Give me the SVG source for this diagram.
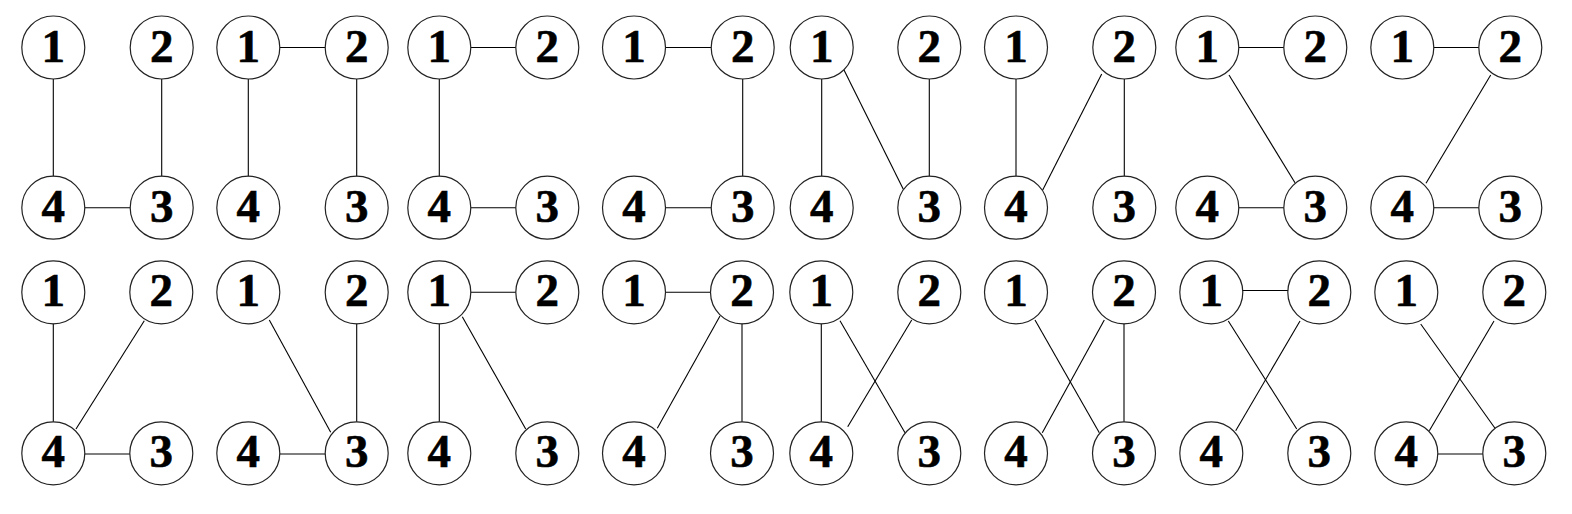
<svg xmlns="http://www.w3.org/2000/svg" width="1572" height="514" viewBox="0 0 1572 514">
<style>
.bg{fill:#fff}
.e{stroke:#000;stroke-width:1.1;fill:none}
.n circle{fill:#fff;stroke:#222;stroke-width:1.2}
.n text{font-family:"Liberation Serif","Times New Roman",serif;font-weight:bold;font-size:47px;text-anchor:middle;fill:#000;stroke:#000;stroke-width:0.6}
</style>
<rect class="bg" x="0" y="0" width="1572" height="514"/>
<!-- Row 1 -->
<g id="g1">
<g id="g1-edges"><line class="e" x1="53.3" y1="47.5" x2="53.3" y2="207.7"/><line class="e" x1="161.7" y1="47.5" x2="161.7" y2="207.7"/><line class="e" x1="53.3" y1="207.7" x2="161.7" y2="207.7"/></g>
<g id="g1-n1" class="n"><circle cx="53.3" cy="47.5" r="31.5"/><text x="53.3" y="61.5">1</text></g>
<g id="g1-n2" class="n"><circle cx="161.7" cy="47.5" r="31.5"/><text x="161.7" y="61.5">2</text></g>
<g id="g1-n4" class="n"><circle cx="53.3" cy="207.7" r="31.5"/><text x="53.3" y="221.7">4</text></g>
<g id="g1-n3" class="n"><circle cx="161.7" cy="207.7" r="31.5"/><text x="161.7" y="221.7">3</text></g>
</g>
<g id="g2">
<g id="g2-edges"><line class="e" x1="248.3" y1="47.5" x2="356.7" y2="47.5"/><line class="e" x1="248.3" y1="47.5" x2="248.3" y2="207.7"/><line class="e" x1="356.7" y1="47.5" x2="356.7" y2="207.7"/></g>
<g id="g2-n1" class="n"><circle cx="248.3" cy="47.5" r="31.5"/><text x="248.3" y="61.5">1</text></g>
<g id="g2-n2" class="n"><circle cx="356.7" cy="47.5" r="31.5"/><text x="356.7" y="61.5">2</text></g>
<g id="g2-n4" class="n"><circle cx="248.3" cy="207.7" r="31.5"/><text x="248.3" y="221.7">4</text></g>
<g id="g2-n3" class="n"><circle cx="356.7" cy="207.7" r="31.5"/><text x="356.7" y="221.7">3</text></g>
</g>
<g id="g3">
<g id="g3-edges"><line class="e" x1="439.3" y1="47.5" x2="547.3" y2="47.5"/><line class="e" x1="439.3" y1="47.5" x2="439.3" y2="207.7"/><line class="e" x1="439.3" y1="207.7" x2="547.3" y2="207.7"/></g>
<g id="g3-n1" class="n"><circle cx="439.3" cy="47.5" r="31.5"/><text x="439.3" y="61.5">1</text></g>
<g id="g3-n2" class="n"><circle cx="547.3" cy="47.5" r="31.5"/><text x="547.3" y="61.5">2</text></g>
<g id="g3-n4" class="n"><circle cx="439.3" cy="207.7" r="31.5"/><text x="439.3" y="221.7">4</text></g>
<g id="g3-n3" class="n"><circle cx="547.3" cy="207.7" r="31.5"/><text x="547.3" y="221.7">3</text></g>
</g>
<g id="g4">
<g id="g4-edges"><line class="e" x1="634" y1="47.5" x2="742.7" y2="47.5"/><line class="e" x1="742.7" y1="47.5" x2="742.7" y2="207.7"/><line class="e" x1="634" y1="207.7" x2="742.7" y2="207.7"/></g>
<g id="g4-n1" class="n"><circle cx="634" cy="47.5" r="31.5"/><text x="634" y="61.5">1</text></g>
<g id="g4-n2" class="n"><circle cx="742.7" cy="47.5" r="31.5"/><text x="742.7" y="61.5">2</text></g>
<g id="g4-n4" class="n"><circle cx="634" cy="207.7" r="31.5"/><text x="634" y="221.7">4</text></g>
<g id="g4-n3" class="n"><circle cx="742.7" cy="207.7" r="31.5"/><text x="742.7" y="221.7">3</text></g>
</g>
<g id="g5">
<g id="g5-edges"><line class="e" x1="821.7" y1="47.5" x2="821.7" y2="207.7"/><line class="e" x1="844" y1="70" x2="903.3" y2="189.3"/><line class="e" x1="929.3" y1="47.5" x2="929.3" y2="207.7"/></g>
<g id="g5-n1" class="n"><circle cx="821.7" cy="47.5" r="31.5"/><text x="821.7" y="61.5">1</text></g>
<g id="g5-n2" class="n"><circle cx="929.3" cy="47.5" r="31.5"/><text x="929.3" y="61.5">2</text></g>
<g id="g5-n4" class="n"><circle cx="821.7" cy="207.7" r="31.5"/><text x="821.7" y="221.7">4</text></g>
<g id="g5-n3" class="n"><circle cx="929.3" cy="207.7" r="31.5"/><text x="929.3" y="221.7">3</text></g>
</g>
<g id="g6">
<g id="g6-edges"><line class="e" x1="1016" y1="47.5" x2="1016" y2="207.7"/><line class="e" x1="1101.7" y1="74" x2="1042.7" y2="190"/><line class="e" x1="1124.3" y1="47.5" x2="1124.3" y2="207.7"/></g>
<g id="g6-n1" class="n"><circle cx="1016" cy="47.5" r="31.5"/><text x="1016" y="61.5">1</text></g>
<g id="g6-n2" class="n"><circle cx="1124.3" cy="47.5" r="31.5"/><text x="1124.3" y="61.5">2</text></g>
<g id="g6-n4" class="n"><circle cx="1016" cy="207.7" r="31.5"/><text x="1016" y="221.7">4</text></g>
<g id="g6-n3" class="n"><circle cx="1124.3" cy="207.7" r="31.5"/><text x="1124.3" y="221.7">3</text></g>
</g>
<g id="g7">
<g id="g7-edges"><line class="e" x1="1207.3" y1="47.5" x2="1315.3" y2="47.5"/><line class="e" x1="1229" y1="75" x2="1295" y2="182.7"/><line class="e" x1="1207.3" y1="207.7" x2="1315.3" y2="207.7"/></g>
<g id="g7-n1" class="n"><circle cx="1207.3" cy="47.5" r="31.5"/><text x="1207.3" y="61.5">1</text></g>
<g id="g7-n2" class="n"><circle cx="1315.3" cy="47.5" r="31.5"/><text x="1315.3" y="61.5">2</text></g>
<g id="g7-n4" class="n"><circle cx="1207.3" cy="207.7" r="31.5"/><text x="1207.3" y="221.7">4</text></g>
<g id="g7-n3" class="n"><circle cx="1315.3" cy="207.7" r="31.5"/><text x="1315.3" y="221.7">3</text></g>
</g>
<g id="g8">
<g id="g8-edges"><line class="e" x1="1402.3" y1="47.5" x2="1510.3" y2="47.5"/><line class="e" x1="1490.7" y1="75" x2="1426" y2="183.3"/><line class="e" x1="1402.3" y1="207.7" x2="1510.3" y2="207.7"/></g>
<g id="g8-n1" class="n"><circle cx="1402.3" cy="47.5" r="31.5"/><text x="1402.3" y="61.5">1</text></g>
<g id="g8-n2" class="n"><circle cx="1510.3" cy="47.5" r="31.5"/><text x="1510.3" y="61.5">2</text></g>
<g id="g8-n4" class="n"><circle cx="1402.3" cy="207.7" r="31.5"/><text x="1402.3" y="221.7">4</text></g>
<g id="g8-n3" class="n"><circle cx="1510.3" cy="207.7" r="31.5"/><text x="1510.3" y="221.7">3</text></g>
</g>
<!-- Row 2 -->
<g id="g9">
<g id="g9-edges"><line class="e" x1="53.3" y1="292.3" x2="53.3" y2="453.3"/><line class="e" x1="144.3" y1="320.7" x2="76" y2="429"/><line class="e" x1="53.3" y1="454" x2="161.3" y2="454"/></g>
<g id="g9-n1" class="n"><circle cx="53.3" cy="292.3" r="31.5"/><text x="53.3" y="306.3">1</text></g>
<g id="g9-n2" class="n"><circle cx="161.3" cy="292.3" r="31.5"/><text x="161.3" y="306.3">2</text></g>
<g id="g9-n4" class="n"><circle cx="53.3" cy="453.3" r="31.5"/><text x="53.3" y="467.3">4</text></g>
<g id="g9-n3" class="n"><circle cx="161.3" cy="453.3" r="31.5"/><text x="161.3" y="467.3">3</text></g>
</g>
<g id="g10">
<g id="g10-edges"><line class="e" x1="269.3" y1="320" x2="330.7" y2="432.3"/><line class="e" x1="356.7" y1="292.3" x2="356.7" y2="453.3"/><line class="e" x1="248.3" y1="454" x2="356.7" y2="454"/></g>
<g id="g10-n1" class="n"><circle cx="248.3" cy="292.3" r="31.5"/><text x="248.3" y="306.3">1</text></g>
<g id="g10-n2" class="n"><circle cx="356.7" cy="292.3" r="31.5"/><text x="356.7" y="306.3">2</text></g>
<g id="g10-n4" class="n"><circle cx="248.3" cy="453.3" r="31.5"/><text x="248.3" y="467.3">4</text></g>
<g id="g10-n3" class="n"><circle cx="356.7" cy="453.3" r="31.5"/><text x="356.7" y="467.3">3</text></g>
</g>
<g id="g11">
<g id="g11-edges"><line class="e" x1="439.3" y1="292.3" x2="547.3" y2="292.3"/><line class="e" x1="439.3" y1="292.3" x2="439.3" y2="453.3"/><line class="e" x1="462.3" y1="316.7" x2="525.7" y2="429"/></g>
<g id="g11-n1" class="n"><circle cx="439.3" cy="292.3" r="31.5"/><text x="439.3" y="306.3">1</text></g>
<g id="g11-n2" class="n"><circle cx="547.3" cy="292.3" r="31.5"/><text x="547.3" y="306.3">2</text></g>
<g id="g11-n4" class="n"><circle cx="439.3" cy="453.3" r="31.5"/><text x="439.3" y="467.3">4</text></g>
<g id="g11-n3" class="n"><circle cx="547.3" cy="453.3" r="31.5"/><text x="547.3" y="467.3">3</text></g>
</g>
<g id="g12">
<g id="g12-edges"><line class="e" x1="634" y1="292.3" x2="742" y2="292.3"/><line class="e" x1="720" y1="316" x2="657.3" y2="428.3"/><line class="e" x1="742" y1="292.3" x2="742" y2="453.3"/></g>
<g id="g12-n1" class="n"><circle cx="634" cy="292.3" r="31.5"/><text x="634" y="306.3">1</text></g>
<g id="g12-n2" class="n"><circle cx="742" cy="292.3" r="31.5"/><text x="742" y="306.3">2</text></g>
<g id="g12-n4" class="n"><circle cx="634" cy="453.3" r="31.5"/><text x="634" y="467.3">4</text></g>
<g id="g12-n3" class="n"><circle cx="742" cy="453.3" r="31.5"/><text x="742" y="467.3">3</text></g>
</g>
<g id="g13">
<g id="g13-edges"><line class="e" x1="821.3" y1="292.3" x2="821.3" y2="453.3"/><line class="e" x1="840" y1="320.7" x2="905" y2="432.7"/><line class="e" x1="911.7" y1="320" x2="847.7" y2="426.7"/></g>
<g id="g13-n1" class="n"><circle cx="821.3" cy="292.3" r="31.5"/><text x="821.3" y="306.3">1</text></g>
<g id="g13-n2" class="n"><circle cx="929.3" cy="292.3" r="31.5"/><text x="929.3" y="306.3">2</text></g>
<g id="g13-n4" class="n"><circle cx="821.3" cy="453.3" r="31.5"/><text x="821.3" y="467.3">4</text></g>
<g id="g13-n3" class="n"><circle cx="929.3" cy="453.3" r="31.5"/><text x="929.3" y="467.3">3</text></g>
</g>
<g id="g14">
<g id="g14-edges"><line class="e" x1="1035" y1="320" x2="1099.3" y2="432.7"/><line class="e" x1="1104.3" y1="320" x2="1042.3" y2="432.7"/><line class="e" x1="1124" y1="292.3" x2="1124" y2="453.3"/></g>
<g id="g14-n1" class="n"><circle cx="1016" cy="292.3" r="31.5"/><text x="1016" y="306.3">1</text></g>
<g id="g14-n2" class="n"><circle cx="1124" cy="292.3" r="31.5"/><text x="1124" y="306.3">2</text></g>
<g id="g14-n4" class="n"><circle cx="1016" cy="453.3" r="31.5"/><text x="1016" y="467.3">4</text></g>
<g id="g14-n3" class="n"><circle cx="1124" cy="453.3" r="31.5"/><text x="1124" y="467.3">3</text></g>
</g>
<g id="g15">
<g id="g15-edges"><line class="e" x1="1211.3" y1="290.5" x2="1319.3" y2="290.5"/><line class="e" x1="1228.3" y1="321" x2="1296.7" y2="429"/><line class="e" x1="1300" y1="321" x2="1235.7" y2="430.7"/></g>
<g id="g15-n1" class="n"><circle cx="1211.3" cy="292.3" r="31.5"/><text x="1211.3" y="306.3">1</text></g>
<g id="g15-n2" class="n"><circle cx="1319.3" cy="292.3" r="31.5"/><text x="1319.3" y="306.3">2</text></g>
<g id="g15-n4" class="n"><circle cx="1211.3" cy="453.3" r="31.5"/><text x="1211.3" y="467.3">4</text></g>
<g id="g15-n3" class="n"><circle cx="1319.3" cy="453.3" r="31.5"/><text x="1319.3" y="467.3">3</text></g>
</g>
<g id="g16">
<g id="g16-edges"><line class="e" x1="1420.7" y1="324" x2="1495" y2="428.3"/><line class="e" x1="1494" y1="321" x2="1429.3" y2="430.7"/><line class="e" x1="1406.3" y1="454" x2="1514.3" y2="454"/></g>
<g id="g16-n1" class="n"><circle cx="1406.3" cy="292.3" r="31.5"/><text x="1406.3" y="306.3">1</text></g>
<g id="g16-n2" class="n"><circle cx="1514.3" cy="292.3" r="31.5"/><text x="1514.3" y="306.3">2</text></g>
<g id="g16-n4" class="n"><circle cx="1406.3" cy="453.3" r="31.5"/><text x="1406.3" y="467.3">4</text></g>
<g id="g16-n3" class="n"><circle cx="1514.3" cy="453.3" r="31.5"/><text x="1514.3" y="467.3">3</text></g>
</g>
</svg>
